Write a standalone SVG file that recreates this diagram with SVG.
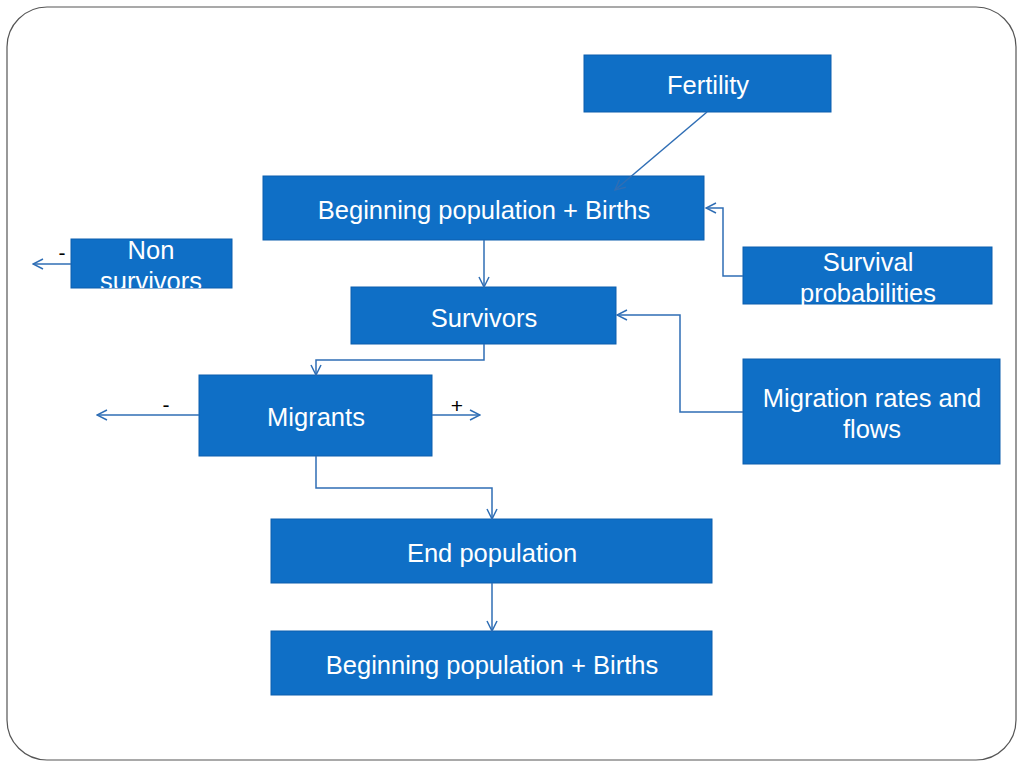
<svg xmlns="http://www.w3.org/2000/svg" width="1024" height="768" viewBox="0 0 1024 768">
<defs>
<style>
.box{fill:#0F6FC6;stroke:#0D5FAE;stroke-width:1}
.t{font-family:"Liberation Sans",Arial,sans-serif;font-size:25.5px;fill:#fff;text-anchor:middle}
.s{font-family:"Liberation Sans",Arial,sans-serif;font-size:21px;fill:#000;text-anchor:middle}
.c{fill:none;stroke:#2F6EB5;stroke-width:1.5}
</style>
<clipPath id="nsclip"><rect x="71" y="230" width="161" height="58"/></clipPath>
<marker id="ah" viewBox="0 0 12 12" refX="11" refY="6" markerWidth="12" markerHeight="12" markerUnits="userSpaceOnUse" orient="auto">
<path d="M1,1 L11,6 L1,11" fill="none" stroke="#2F6EB5" stroke-width="1.5"/>
</marker>
</defs>
<rect x="0" y="0" width="1024" height="768" fill="#fff"/>
<rect x="7" y="7" width="1009" height="753" rx="40" ry="40" fill="#fff" stroke="#555" stroke-width="1.2"/>
<g id="fertility">
<rect class="box" x="584" y="55" width="247" height="57"/>
<text class="t" x="708" y="94">Fertility</text>
</g>
<g id="begin1">
<rect class="box" x="263" y="176" width="441" height="64"/>
<text class="t" x="484" y="219">Beginning population + Births</text>
</g>
<g id="nonsurvivors">
<rect class="box" x="71" y="239" width="161" height="49"/>
<g clip-path="url(#nsclip)">
<text class="t" x="151" y="259">Non</text>
<text class="t" x="151" y="290">survivors</text>
</g>
</g>
<g id="survival">
<rect class="box" x="743" y="247" width="249" height="57"/>
<text class="t" x="868" y="271">Survival</text>
<text class="t" x="868" y="302">probabilities</text>
</g>
<g id="survivors">
<rect class="box" x="351" y="287" width="265" height="57"/>
<text class="t" x="484" y="327">Survivors</text>
</g>
<g id="migrants">
<rect class="box" x="199" y="375" width="233" height="81"/>
<text class="t" x="316" y="426">Migrants</text>
</g>
<g id="migration">
<rect class="box" x="743" y="359" width="257" height="105"/>
<text class="t" x="872" y="407">Migration rates and</text>
<text class="t" x="872" y="438">flows</text>
</g>
<g id="endpop">
<rect class="box" x="271" y="519" width="441" height="64"/>
<text class="t" x="492" y="562">End population</text>
</g>
<g id="begin2">
<rect class="box" x="271" y="631" width="441" height="64"/>
<text class="t" x="492" y="674">Beginning population + Births</text>
</g>
<g id="connectors">
<line class="c" x1="707" y1="112" x2="615" y2="190" marker-end="url(#ah)"/>
<polyline class="c" points="743,276 723,276 723,208 706,208" marker-end="url(#ah)"/>
<polyline class="c" points="743,412 680,412 680,315 617,315" marker-end="url(#ah)"/>
<line class="c" x1="484" y1="240" x2="484" y2="287" marker-end="url(#ah)"/>
<polyline class="c" points="484,344 484,360 316,360 316,375" marker-end="url(#ah)"/>
<polyline class="c" points="316,456 316,488 492,488 492,519" marker-end="url(#ah)"/>
<line class="c" x1="492" y1="583" x2="492" y2="631" marker-end="url(#ah)"/>
<line class="c" x1="71" y1="264" x2="33" y2="264" marker-end="url(#ah)"/>
<line class="c" x1="199" y1="415" x2="97" y2="415" marker-end="url(#ah)"/>
<line class="c" x1="432" y1="415" x2="480" y2="415" marker-end="url(#ah)"/>
<text class="s" x="62" y="260">-</text>
<text class="s" x="166" y="412">-</text>
<text class="s" x="457" y="413">+</text>
</g>
</svg>
